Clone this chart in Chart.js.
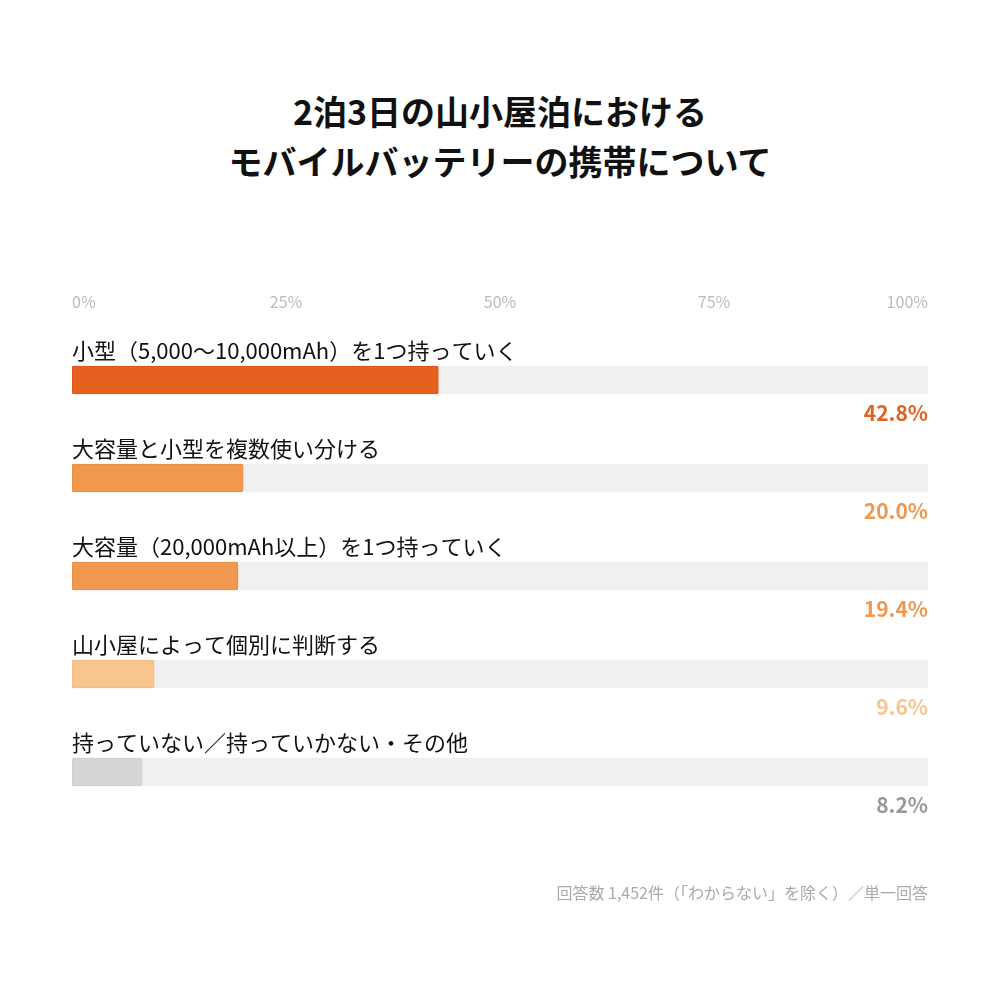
<!DOCTYPE html>
<html lang="ja">
<head>
<meta charset="UTF-8">
<title>モバイルバッテリーの携帯</title>
<script src="https://cdn.jsdelivr.net/npm/chart.js"></script>
<style>
  body { margin: 0; background: #fff; font-family: 'Noto Sans CJK JP', sans-serif; }
  #wrap { position: relative; width: 1000px; height: 1000px; }
  h1 { position: absolute; top: 86px; left: 0; width: 1000px; margin: 0; text-align: center;
       font-size: 34px; font-weight: 700; line-height: 50px; color: #111; }
  #note { position: absolute; top: 880px; right: 72px; font-size: 16px; color: #aaa; }
  canvas { position: absolute; top: 0; left: 0; }
</style>
</head>
<body>
<div id="wrap">
  <h1>2泊3日の山小屋泊における<br>モバイルバッテリーの携帯について</h1>
  <canvas id="c" width="1000" height="1000"></canvas>
  <div id="note">回答数 1,452件（「わからない」を除く）／単一回答</div>
</div>
<script>
const categories = [
  '小型（5,000〜10,000mAh）を1つ持っていく',
  '大容量と小型を複数使い分ける',
  '大容量（20,000mAh以上）を1つ持っていく',
  '山小屋によって個別に判断する',
  '持っていない／持っていかない・その他'
];
const values = [42.8, 20.0, 19.4, 9.6, 8.2];
const tickValues = [0, 25, 50, 75, 100];
const barColors = ['#e4611f', '#f0984d', '#f0984d', '#f8c58c', '#d6d6d6'];
const borderColors = ['#d9561a', '#e98c40', '#e98c40', '#f2ba7e', '#cfcfcf'];
const textColors = ['#e4611f', '#f0984d', '#f0984d', '#f8c58c', '#999999'];

const labelPlugin = {
  id: 'labels',
  afterDatasetsDraw(chart) {
    const ctx = chart.ctx;
    const x = chart.scales.x, y = chart.scales.y;
    ctx.save();
    ctx.font = '16px "Noto Sans CJK JP"';
    ctx.fillStyle = '#bbb';
    ctx.textBaseline = 'middle';
    tickValues.forEach((v, i) => {
      ctx.textAlign = i === 0 ? 'left' : (i === tickValues.length - 1 ? 'right' : 'center');
      ctx.fillText(v + '%', x.getPixelForValue(v), 302);
    });
    categories.forEach((c, i) => {
      const cy = y.getPixelForValue(i);
      ctx.font = '22px "Noto Sans CJK JP"';
      ctx.fillStyle = '#111';
      ctx.textAlign = 'left';
      ctx.textBaseline = 'alphabetic';
      ctx.fillText(c, x.left, cy - 21);
      ctx.font = 'bold 21px "Noto Sans CJK JP"';
      ctx.fillStyle = textColors[i];
      ctx.textAlign = 'right';
      ctx.fillText(values[i].toFixed(1) + '%', x.right, cy + 41);
    });
    ctx.restore();
  }
};

new Chart(document.getElementById('c'), {
  type: 'bar',
  data: {
    labels: categories,
    datasets: [
      { data: values, backgroundColor: barColors, borderColor: borderColors, borderWidth: 1,
        borderRadius: 2, borderSkipped: false, barThickness: 28, grouped: false, order: 0 },
      { data: values.map(() => 100), backgroundColor: '#f0f0f0', borderWidth: 0,
        borderRadius: 2, barThickness: 28, grouped: false, order: 1 }
    ]
  },
  options: {
    indexAxis: 'y',
    responsive: false,
    animation: false,
    layout: { padding: { left: 72, right: 72, top: 331, bottom: 179 } },
    plugins: { legend: { display: false }, tooltip: { enabled: false } },
    scales: {
      x: { min: 0, max: 100, display: false },
      y: { display: false }
    }
  },
  plugins: [labelPlugin]
});
</script>
</body>
</html>
